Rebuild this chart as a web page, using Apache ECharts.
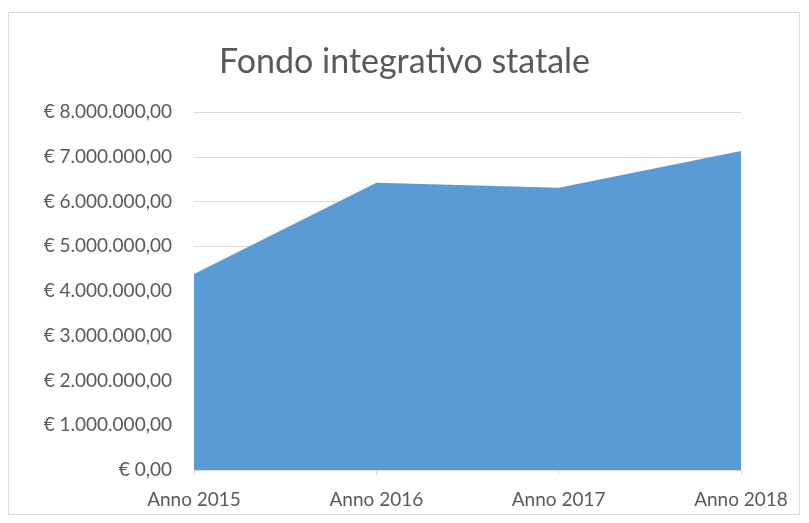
<!DOCTYPE html>
<html>
<head>
<meta charset="utf-8">
<script src="https://cdn.jsdelivr.net/npm/echarts@6/dist/echarts.min.js"></script>
<style>
  html, body { margin: 0; padding: 0; background: #fff; }
  #main { width: 809px; height: 523px; }
</style>
</head>
<body>
<div id="main"></div>
<script>
// dati
var categorie = ["Anno 2015", "Anno 2016", "Anno 2017", "Anno 2018"];
var valori = [4380000, 6420000, 6310000, 7130000];
var titolo = "Fondo integrativo statale";

// formato euro italiano: € 1.000.000,00
function formatEuro(v) {
    var parts = Math.round(v).toString().replace(/\B(?=(\d{3})+(?!\d))/g, ".");
    return "€ " + parts + ",00";
}

var myChart = echarts.init(document.getElementById('main'));
var option = {
    backgroundColor: "#fff",
    animation: false,
    title: {
        text: titolo,
        left: 'center',
        top: 40,
        textStyle: { fontFamily: "Lato", fontSize: 34, fontWeight: "normal", color: "#595959" }
    },
    graphic: [{
        type: 'rect',
        shape: { x: 8.5, y: 12.5, width: 791, height: 502 },
        style: { fill: null, stroke: "#d9d9d9", lineWidth: 1 },
        silent: true
    }],
    grid: { left: 194, right: 68, top: 112, bottom: 53 },
    xAxis: [{
        type: 'category',
        boundaryGap: false,
        data: categorie,
        axisLine: { lineStyle: { color: "#d9d9d9" } },
        axisTick: { show: true, length: 5, lineStyle: { color: "#d9d9d9" } },
        axisLabel: { fontFamily: "Lato", fontSize: 19, color: "#595959", margin: 20 },
        splitLine: { show: false }
    }],
    yAxis: [{
        type: 'value',
        min: 0,
        max: 8000000,
        interval: 1000000,
        axisLine: { show: false },
        axisTick: { show: false },
        axisLabel: { fontFamily: "Lato", fontSize: 19, color: "#595959", margin: 22, formatter: formatEuro },
        splitLine: { lineStyle: { color: "#d9d9d9" } }
    }],
    series: [{
        name: titolo,
        type: 'line',
        data: valori,
        symbol: 'none',
        lineStyle: { width: 0 },
        areaStyle: { color: "#5b9bd5", opacity: 1 },
        itemStyle: { color: "#5b9bd5" }
    }]
};
myChart.setOption(option);
</script>
</body>
</html>
